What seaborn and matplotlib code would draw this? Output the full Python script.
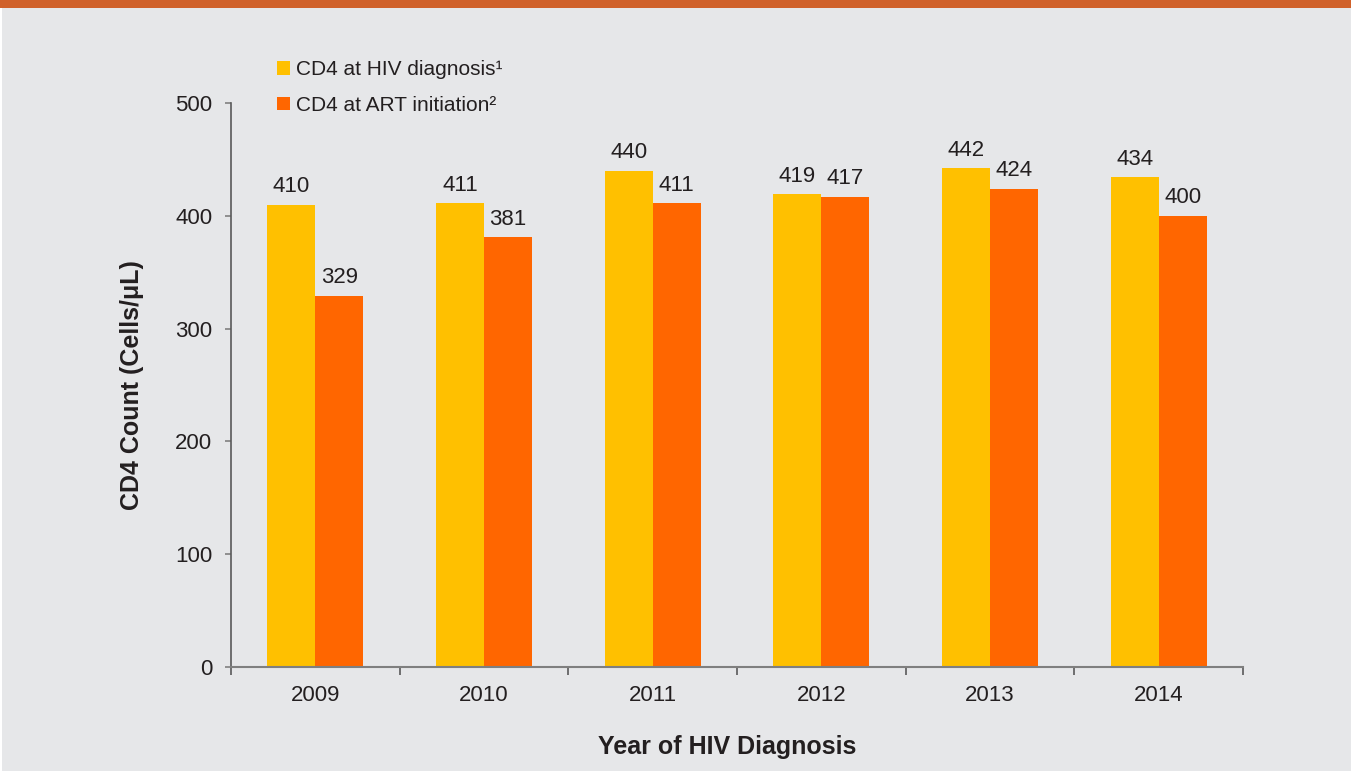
import numpy as np
import pandas as pd
import matplotlib.pyplot as plt
import seaborn as sns
from matplotlib.patches import Patch, Rectangle

# Số liệu
years = ['2009', '2010', '2011', '2012', '2013', '2014']
cd4_diagnosis = [410, 411, 440, 419, 442, 434]
cd4_art = [329, 381, 411, 417, 424, 400]
series_names = ['CD4 at HIV diagnosis\u00b9', 'CD4 at ART initiation\u00b2']
colors = ['#FFC000', '#FF6600']
y_ticks = [0, 100, 200, 300, 400, 500]

bg = '#E6E7E9'
band = '#D0612A'
text_col = '#231F20'

df = pd.DataFrame({
    'Year': years * 2,
    'Value': cd4_diagnosis + cd4_art,
    'Series': [series_names[0]] * len(years) + [series_names[1]] * len(years),
})

sns.set_theme(style='white')
plt.rcParams['font.family'] = ['Liberation Sans', 'DejaVu Sans']

fig = plt.figure(figsize=(13.51, 7.71), dpi=100, facecolor=bg)
ax = fig.add_axes([231 / 1351, 1 - 667 / 771, 1012 / 1351, 564 / 771])
ax.set_facecolor(bg)

sns.barplot(data=df, x='Year', y='Value', hue='Series', order=years,
            hue_order=series_names, palette=colors, width=0.57, gap=0,
            saturation=1, linewidth=0, legend=False, ax=ax)

# Nhãn giá trị trên mỗi cột
for cont in ax.containers:
    for p in cont:
        h = p.get_height()
        ax.annotate(f'{int(h)}', (p.get_x() + p.get_width() / 2, h),
                    xytext=(0, 5.5), textcoords='offset points',
                    ha='center', va='bottom', fontsize=16, color=text_col)

ax.set_xlim(-0.5, len(years) - 0.5)
ax.set_ylim(0, 500)
ax.set_yticks(y_ticks)

for s in ['top', 'right']:
    ax.spines[s].set_visible(False)
ax.spines['left'].set_color('#595959')
ax.spines['bottom'].set_color('#7F7F7F')
ax.spines['left'].set_linewidth(1.2)
ax.spines['bottom'].set_linewidth(1.5)

ax.tick_params(axis='y', direction='out', length=4.5, width=1.2, color='#808080',
               labelsize=16, labelcolor=text_col, pad=9, left=True)
ax.tick_params(axis='x', which='major', length=0, labelsize=16,
               labelcolor=text_col, pad=13)
ax.set_xticks(np.arange(-0.5, len(years), 1.0), minor=True)
ax.tick_params(axis='x', which='minor', direction='out', length=6, width=1.2,
               color='#595959', bottom=True)

ax.set_xlabel('Year of HIV Diagnosis', fontsize=18, fontweight='bold', color=text_col)
ax.set_ylabel('CD4 Count (Cells/\u03bcL)', fontsize=18, fontweight='bold', color=text_col)
ax.xaxis.set_label_coords(0.49, -0.142)
ax.xaxis.label.set_va('center')
ax.yaxis.set_label_coords(-0.098, 0.5)
ax.yaxis.label.set_va('center')

handles = [Patch(facecolor=c, edgecolor='none') for c in colors]
fig.legend(handles, series_names, loc='upper left',
           bbox_to_anchor=(267 / 1351, 1 - 50 / 771), frameon=False,
           fontsize=15, handlelength=0.62, handleheight=0.62,
           handletextpad=0.25, labelspacing=0.8, borderpad=0,
           labelcolor=text_col)

# Dải màu cam phía trên và viền trắng bên trái
fig.patches.append(Rectangle((0, 1 - 8 / 771), 1, 8 / 771, transform=fig.transFigure,
                             facecolor=band, edgecolor='none', zorder=0))
fig.patches.append(Rectangle((0, 0), 2 / 1351, 1 - 8 / 771, transform=fig.transFigure,
                             facecolor='white', edgecolor='none', zorder=0))

fig.savefig('out.png', dpi=100, facecolor=bg)
